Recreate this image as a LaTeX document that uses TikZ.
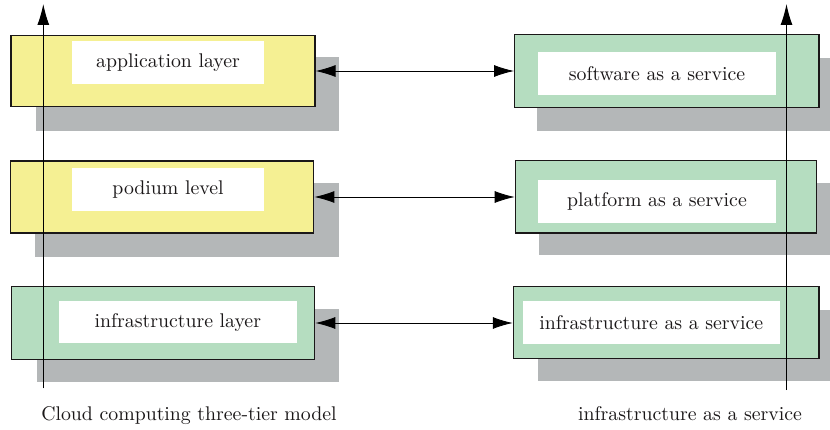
\documentclass[tikz,border=0pt]{standalone}
\usepackage{fontspec}
\newfontfamily\labelfont{lmroman10-regular.otf}
\usetikzlibrary{arrows.meta}
\definecolor{ylw}{HTML}{F5F093}
\definecolor{grn}{HTML}{B5DDC0}
\definecolor{shd}{HTML}{B4B7B8}
\definecolor{ink}{HTML}{1A1718}
\begin{document}
\begin{tikzpicture}[x=1pt,y=-1pt,
  shadowbox/.style={fill=shd,draw=none},
  ybox/.style={draw=ink,line width=1.2pt,fill=ylw},
  gbox/.style={draw=ink,line width=1.2pt,fill=grn},
  label/.style={fill=white,inner sep=0pt,text=ink,font=\labelfont\fontsize{19.8}{24}\selectfont},
  caption/.style={text=ink,font=\labelfont\fontsize{19.8}{24}\selectfont,anchor=base,inner sep=0pt},
  link/.style={line width=0.85pt,{Latex[length=20pt,width=12pt]}-{Latex[length=20pt,width=12pt]}},
  axis/.style={line width=1pt,-{Latex[length=21pt,width=12pt]}}]
\useasboundingbox (0,0) rectangle (830,430);
% shadows
\fill[shadowbox] (36,57) rectangle (339,131.5);
\fill[shadowbox] (35,183) rectangle (339,256.7);
\fill[shadowbox] (37,309) rectangle (339,381.7);
\fill[shadowbox] (537,58) rectangle (830,130.7);
\fill[shadowbox] (539,183.3) rectangle (830,254.7);
\fill[shadowbox] (538.3,310) rectangle (830,380.7);
% boxes
\node[ybox,minimum width=304,minimum height=70.5,inner sep=0pt] (L1) at (163,71) {};
\node[ybox,minimum width=303,minimum height=72,inner sep=0pt] (L2) at (162.3,197) {};
\node[gbox,minimum width=303.5,minimum height=72.5,inner sep=0pt] (L3) at (163,323) {};
\node[gbox,minimum width=304.3,minimum height=73,inner sep=0pt] (R1) at (666.8,71.2) {};
\node[gbox,minimum width=301.4,minimum height=72.3,inner sep=0pt] (R2) at (666,196.8) {};
\node[gbox,minimum width=305.7,minimum height=72,inner sep=0pt] (R3) at (666.2,322.7) {};
% inner labels
\node[label,minimum width=192,minimum height=42.4] (l1) at (168,62.5) {application layer};
\node[label,minimum width=192,minimum height=43] (l2) at (168,189.5) {podium level};
\node[label,minimum width=237.7,minimum height=42.3] (l3) at (177.8,322.2) {infrastructure layer};
\node[label,minimum width=238,minimum height=43] (r1) at (657,73.5) {software as a service};
\node[label,minimum width=238,minimum height=42.4] (r2) at (657,201.5) {platform as a service};
\node[label,minimum width=257.3,minimum height=42.7] (r3) at (651.3,322.3) {infrastructure as a service};
% links
\draw[link] (L1.east) -- (R1.west |- L1.east);
\draw[link] (L2.east) -- (R2.west |- L2.east);
\draw[link] (L3.east) -- (R3.west |- L3.east);
% axes
\coordinate (a1b) at (43.3,388.3);
\coordinate (a1t) at (43.3,4);
\coordinate (a2b) at (786.5,390);
\coordinate (a2t) at (786.5,4);
\draw[axis] (a1b) -- (a1t);
\draw[axis] (a2b) -- (a2t);
% captions
\node[caption] (c1) at (189,420.7) {Cloud computing three-tier model};
\node[caption] (c2) at (690,420.7) {infrastructure as a service};
\end{tikzpicture}
\end{document}
